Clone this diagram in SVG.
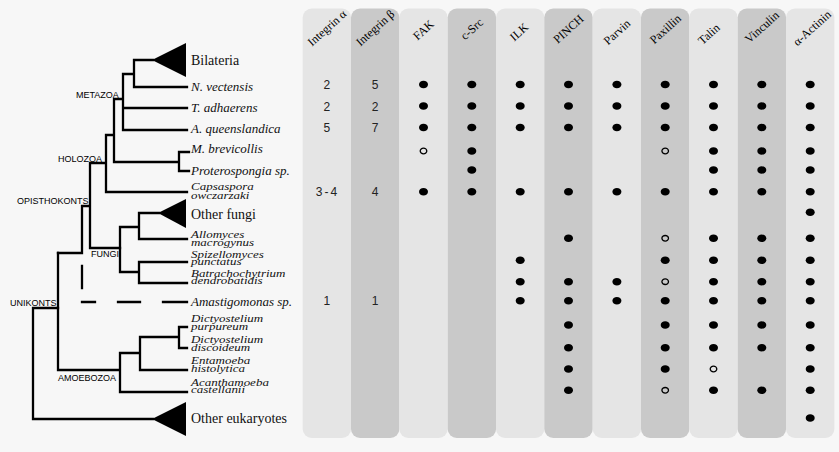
<svg xmlns="http://www.w3.org/2000/svg" xmlns:xlink="http://www.w3.org/1999/xlink" width="839" height="452" viewBox="0 0 839 452">
<style>
.bg{fill:#f7f7f7}
.cl{fill:#e5e5e5}
.cd{fill:#c9c9c9}
.tr{stroke:#000;stroke-width:2.3;fill:none;stroke-linecap:square}
.tri{fill:#000}
.tx{font-family:"Liberation Serif","Times New Roman",serif;font-style:italic;font-size:13px;fill:#111}
.tn{font-family:"Liberation Serif","Times New Roman",serif;font-size:14px;fill:#111}
.clade{font-family:"Liberation Sans",Arial,sans-serif;font-size:9px;fill:#000}
.hd{font-family:"Liberation Serif","Times New Roman",serif;font-size:12px;text-anchor:middle;fill:#000}
.num{font-family:"Liberation Sans",Arial,sans-serif;font-size:12px;text-anchor:middle;fill:#222}
</style>
<defs>
<ellipse id="d" cx="0" cy="0" rx="4.5" ry="3.8" fill="#000"/>
<ellipse id="o" cx="0" cy="0" rx="3.3" ry="2.8" fill="none" stroke="#000" stroke-width="1.3"/>
</defs>
<rect class="bg" x="0" y="0" width="839" height="452"/>

<!-- columns -->
<g id="col-integrin-a">
<rect class="cl" x="302.7" y="8.5" width="48.4" height="429.5" rx="9"/>
<g transform="translate(327,28)"><g transform="rotate(-42)"><text class="hd" x="0" y="4">Integrin α</text></g></g>
<text class="num" x="326.9" y="89">2</text>
<text class="num" x="326.9" y="110.5">2</text>
<text class="num" x="326.9" y="132">5</text>
<text class="num" x="327.5" y="196.2" letter-spacing="2">3-4</text>
<text class="num" x="326.9" y="305.2">1</text>
</g>
<g id="col-integrin-b">
<rect class="cd" x="351" y="8.5" width="48.4" height="429.5" rx="9"/>
<g transform="translate(375.2,28)"><g transform="rotate(-42)"><text class="hd" x="0" y="4">Integrin β</text></g></g>
<text class="num" x="375.2" y="89">5</text>
<text class="num" x="375.2" y="110.5">2</text>
<text class="num" x="375.2" y="132">7</text>
<text class="num" x="375.2" y="196.2">4</text>
<text class="num" x="375.2" y="305.2">1</text>
</g>
<g id="col-fak">
<rect class="cl" x="399.3" y="8.5" width="48.4" height="429.5" rx="9"/>
<g transform="translate(423.5,30)"><g transform="rotate(-42)"><text class="hd" x="0" y="4">FAK</text></g></g>
<use xlink:href="#d" x="423.5" y="84.5"/><use xlink:href="#d" x="423.5" y="106"/><use xlink:href="#d" x="423.5" y="127.5"/>
<use xlink:href="#o" x="423.5" y="151"/><use xlink:href="#d" x="423.5" y="191.7"/>
</g>
<g id="col-csrc">
<rect class="cd" x="447.7" y="8.5" width="48.4" height="429.5" rx="9"/>
<g transform="translate(471.8,29)"><g transform="rotate(-42)"><text class="hd" x="0" y="4">c-Src</text></g></g>
<use xlink:href="#d" x="471.8" y="84.5"/><use xlink:href="#d" x="471.8" y="106"/><use xlink:href="#d" x="471.8" y="127.5"/>
<use xlink:href="#d" x="471.8" y="151"/><use xlink:href="#d" x="471.8" y="170"/><use xlink:href="#d" x="471.8" y="191.7"/>
</g>
<g id="col-ilk">
<rect class="cl" x="496" y="8.5" width="48.4" height="429.5" rx="9"/>
<g transform="translate(519,32)"><g transform="rotate(-42)"><text class="hd" x="0" y="4">ILK</text></g></g>
<use xlink:href="#d" x="520.2" y="84.5"/><use xlink:href="#d" x="520.2" y="106"/><use xlink:href="#d" x="520.2" y="127.5"/>
<use xlink:href="#d" x="520.2" y="191.7"/><use xlink:href="#d" x="520.2" y="260.3"/><use xlink:href="#d" x="520.2" y="281.7"/>
<use xlink:href="#d" x="520.2" y="300.7"/>
</g>
<g id="col-pinch">
<rect class="cd" x="544.3" y="8.5" width="48.4" height="429.5" rx="9"/>
<g transform="translate(568.5,29)"><g transform="rotate(-42)"><text class="hd" x="0" y="4">PINCH</text></g></g>
<use xlink:href="#d" x="568.5" y="84.5"/><use xlink:href="#d" x="568.5" y="106"/><use xlink:href="#d" x="568.5" y="127.5"/>
<use xlink:href="#d" x="568.5" y="191.7"/><use xlink:href="#d" x="568.5" y="238.3"/><use xlink:href="#d" x="568.5" y="281.7"/>
<use xlink:href="#d" x="568.5" y="300.7"/><use xlink:href="#d" x="568.5" y="325"/><use xlink:href="#d" x="568.5" y="347.7"/>
<use xlink:href="#d" x="568.5" y="369"/><use xlink:href="#d" x="568.5" y="390.3"/>
</g>
<g id="col-parvin">
<rect class="cl" x="592.7" y="8.5" width="48.4" height="429.5" rx="9"/>
<g transform="translate(617,32)"><g transform="rotate(-42)"><text class="hd" x="0" y="4">Parvin</text></g></g>
<use xlink:href="#d" x="616.9" y="84.5"/><use xlink:href="#d" x="616.9" y="106"/><use xlink:href="#d" x="616.9" y="127.5"/>
<use xlink:href="#d" x="616.9" y="191.7"/><use xlink:href="#d" x="616.9" y="281.7"/><use xlink:href="#d" x="616.9" y="300.7"/>
</g>
<g id="col-paxillin">
<rect class="cd" x="641" y="8.5" width="48.4" height="429.5" rx="9"/>
<g transform="translate(665.5,29)"><g transform="rotate(-42)"><text class="hd" x="0" y="4">Paxillin</text></g></g>
<use xlink:href="#d" x="665.2" y="84.5"/><use xlink:href="#d" x="665.2" y="106"/><use xlink:href="#d" x="665.2" y="127.5"/>
<use xlink:href="#o" x="665.2" y="151"/><use xlink:href="#d" x="665.2" y="191.7"/><use xlink:href="#o" x="665.2" y="238.3"/>
<use xlink:href="#d" x="665.2" y="260.3"/><use xlink:href="#o" x="665.2" y="281.7"/><use xlink:href="#d" x="665.2" y="300.7"/>
<use xlink:href="#d" x="665.2" y="325"/><use xlink:href="#d" x="665.2" y="347.7"/><use xlink:href="#d" x="665.2" y="369"/>
<use xlink:href="#o" x="665.2" y="390.3"/>
</g>
<g id="col-talin">
<rect class="cl" x="689.3" y="8.5" width="48.4" height="429.5" rx="9"/>
<g transform="translate(709,34)"><g transform="rotate(-42)"><text class="hd" x="0" y="4">Talin</text></g></g>
<use xlink:href="#d" x="713.5" y="84.5"/><use xlink:href="#d" x="713.5" y="106"/><use xlink:href="#d" x="713.5" y="127.5"/>
<use xlink:href="#d" x="713.5" y="151"/><use xlink:href="#d" x="713.5" y="170"/><use xlink:href="#d" x="713.5" y="191.7"/>
<use xlink:href="#d" x="713.5" y="238.3"/><use xlink:href="#d" x="713.5" y="260.3"/><use xlink:href="#d" x="713.5" y="281.7"/>
<use xlink:href="#d" x="713.5" y="300.7"/><use xlink:href="#d" x="713.5" y="325"/><use xlink:href="#d" x="713.5" y="347.7"/>
<use xlink:href="#o" x="713.5" y="369"/><use xlink:href="#d" x="713.5" y="390.3"/>
</g>
<g id="col-vinculin">
<rect class="cd" x="737.7" y="8.5" width="48.4" height="429.5" rx="9"/>
<g transform="translate(762,27)"><g transform="rotate(-42)"><text class="hd" x="0" y="4">Vinculin</text></g></g>
<use xlink:href="#d" x="761.8" y="84.5"/><use xlink:href="#d" x="761.8" y="106"/><use xlink:href="#d" x="761.8" y="127.5"/>
<use xlink:href="#d" x="761.8" y="151"/><use xlink:href="#d" x="761.8" y="170"/><use xlink:href="#d" x="761.8" y="191.7"/>
<use xlink:href="#d" x="761.8" y="238.3"/><use xlink:href="#d" x="761.8" y="260.3"/><use xlink:href="#d" x="761.8" y="281.7"/>
<use xlink:href="#d" x="761.8" y="300.7"/><use xlink:href="#d" x="761.8" y="325"/><use xlink:href="#d" x="761.8" y="347.7"/>
<use xlink:href="#d" x="761.8" y="390.3"/>
</g>
<g id="col-actinin">
<rect class="cl" x="786" y="8.5" width="48.4" height="429.5" rx="9"/>
<g transform="translate(812,28)"><g transform="rotate(-42)"><text class="hd" x="0" y="4">α-Actinin</text></g></g>
<use xlink:href="#d" x="810.2" y="84.5"/><use xlink:href="#d" x="810.2" y="106"/><use xlink:href="#d" x="810.2" y="127.5"/>
<use xlink:href="#d" x="810.2" y="151"/><use xlink:href="#d" x="810.2" y="170"/><use xlink:href="#d" x="810.2" y="191.7"/>
<use xlink:href="#d" x="810.2" y="212.3"/><use xlink:href="#d" x="810.2" y="238.3"/><use xlink:href="#d" x="810.2" y="260.3"/>
<use xlink:href="#d" x="810.2" y="281.7"/><use xlink:href="#d" x="810.2" y="300.7"/><use xlink:href="#d" x="810.2" y="325"/>
<use xlink:href="#d" x="810.2" y="347.7"/><use xlink:href="#d" x="810.2" y="369"/><use xlink:href="#d" x="810.2" y="390.3"/>
<use xlink:href="#d" x="810.2" y="418"/>
</g>

<!-- tree connectors -->
<g id="connectors" class="tr">
<path d="M134,60 H153 M134,60 V87 H187 M123,74 H134 M123,74 V130 H187 M123,108 H187 M114,99 H123 M114,99 V162 H179 M179,152 V171 M179,152 H189 M179,171 H189 M106,135 H114 M106,135 V192 H187 M90,163 H106 M90,163 V248 H120 M82,206 H90 M82,206 V253 H58"/>
<path d="M120,227 V272 M120,227 H139 M139,213 V239 H187 M139,213 H159 M120,272 H139 M139,262 V283 M139,262 H187 M139,283 H187"/>
<path d="M82,266 V288 M82,302 H95 M118,302 H140 M163,302 H187"/>
<path d="M58,253 V370 H120 M120,353 V392 H187 M120,353 H140 M140,337 V370 H187 M140,337 H179 M179,327 V348 M179,327 H187 M179,348 H187"/>
<path d="M33,308 H58 M33,308 V419 H153"/>
</g>

<!-- clade labels -->
<g id="clade-labels" class="clade">
<text x="76" y="97.5">METAZOA</text>
<text x="58" y="161.5">HOLOZOA</text>
<text x="17" y="203.5">OPISTHOKONTS</text>
<text x="91" y="256.5">FUNGI</text>
<text x="10" y="306">UNIKONTS</text>
<text x="58" y="380.5">AMOEBOZOA</text>
</g>

<!-- taxa -->
<g id="taxon-bilateria"><polygon class="tri" points="152,60 186,43 186,77"/><text class="tn" x="191" y="65">Bilateria</text></g>
<g id="taxon-nvectensis"><text class="tx" x="191" y="90.5">N. vectensis</text></g>
<g id="taxon-tadhaerens"><text class="tx" x="191" y="112">T. adhaerens</text></g>
<g id="taxon-aqueenslandica"><text class="tx" x="191" y="133">A. queenslandica</text></g>
<g id="taxon-mbrevicollis"><text class="tx" x="191" y="152.5">M. brevicollis</text></g>
<g id="taxon-proterospongia"><text class="tx" x="191" y="175">Proterospongia sp.</text></g>
<g id="taxon-capsaspora"><text class="tx" transform="translate(191,190) scale(1,0.85)"><tspan x="0" y="0">Capsaspora</tspan><tspan x="0" y="10">owczarzaki</tspan></text></g>
<g id="taxon-otherfungi"><polygon class="tri" points="158,213 186,199 186,228"/><text class="tn" x="191" y="218.5">Other fungi</text></g>
<g id="taxon-allomyces"><text class="tx" transform="translate(191,238) scale(1,0.85)"><tspan x="0" y="0">Allomyces</tspan><tspan x="0" y="9.5">macrogynus</tspan></text></g>
<g id="taxon-spizellomyces"><text class="tx" transform="translate(191,257.5) scale(1,0.85)"><tspan x="0" y="0">Spizellomyces</tspan><tspan x="0" y="9">punctatus</tspan></text></g>
<g id="taxon-batrachochytrium"><text class="tx" transform="translate(191,276.7) scale(1,0.85)"><tspan x="0" y="0">Batrachochytrium</tspan><tspan x="0" y="9">dendrobatidis</tspan></text></g>
<g id="taxon-amastigomonas"><text class="tx" x="191" y="306">Amastigomonas sp.</text></g>
<g id="taxon-dpurpureum"><text class="tx" transform="translate(191,322) scale(1,0.85)"><tspan x="0" y="0">Dictyostelium</tspan><tspan x="0" y="9">purpureum</tspan></text></g>
<g id="taxon-ddiscoideum"><text class="tx" transform="translate(191,343.3) scale(1,0.85)"><tspan x="0" y="0">Dictyostelium</tspan><tspan x="0" y="9">discoideum</tspan></text></g>
<g id="taxon-entamoeba"><text class="tx" transform="translate(191,364.3) scale(1,0.85)"><tspan x="0" y="0">Entamoeba</tspan><tspan x="0" y="9">histolytica</tspan></text></g>
<g id="taxon-acanthamoeba"><text class="tx" transform="translate(191,385.7) scale(1,0.85)"><tspan x="0" y="0">Acanthamoeba</tspan><tspan x="0" y="9">castellanii</tspan></text></g>
<g id="taxon-othereukaryotes"><polygon class="tri" points="152,419 186,402 186,436"/><text class="tn" x="191" y="423">Other eukaryotes</text></g>
</svg>
